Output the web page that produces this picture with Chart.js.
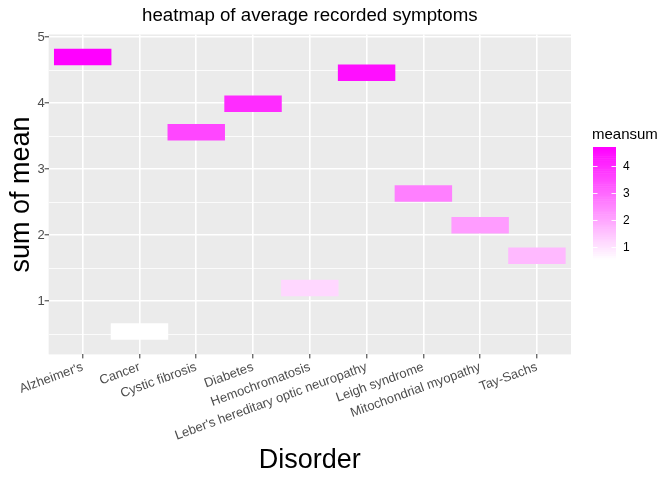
<!DOCTYPE html>
<html>
<head>
<meta charset="utf-8">
<script src="https://cdn.jsdelivr.net/npm/chart.js@4.4.1/dist/chart.umd.min.js"></script>
<style>
  html, body { margin: 0; padding: 0; background: #fff; }
  #wrap { width: 672px; height: 480px; }
</style>
</head>
<body>
<div id="wrap"><canvas id="chart" width="672" height="480"></canvas></div>
<script>
// data
const disorders = [
  "Alzheimer's", 'Cancer', 'Cystic fibrosis', 'Diabetes', 'Hemochromatosis',
  "Leber's hereditary optic neuropathy", 'Leigh syndrome', 'Mitochondrial myopathy', 'Tay-Sachs'
];
const meanSum = [4.70, 0.54, 3.56, 3.99, 1.20, 4.46, 2.63, 2.15, 1.69];
const yTicks = [1, 2, 3, 4, 5];
const legendTicks = [1, 2, 3, 4];

const TILE_HALF = 0.12;
const FONT = "'Liberation Sans', Arial, Helvetica, sans-serif";

// white -> magenta gradient over the data range
const vMin = Math.min(...meanSum);
const vMax = Math.max(...meanSum);
const fillFor = (v) => {
  const t = Math.max(0, Math.min(1, (v - vMin) / (vMax - vMin)));
  const g = Math.round(255 * (1 - t));
  return `rgb(255,${g},255)`;
};

// grey panel behind the plot
const panelBg = {
  id: 'panelBg',
  beforeDraw(chart) {
    const { ctx, chartArea: a } = chart;
    ctx.save();
    ctx.fillStyle = '#EBEBEB';
    ctx.fillRect(a.left, a.top, a.right - a.left, a.bottom - a.top);
    ctx.restore();
  }
};

// colour bar legend on the right
const colourBar = {
  id: 'colourBar',
  afterDraw(chart) {
    const { ctx } = chart;
    const x = 593, w = 23, top = 147, bottom = 259;
    const scaleY = (v) => bottom - (v - vMin) / (vMax - vMin) * (bottom - top);
    ctx.save();
    ctx.fillStyle = '#000';
    ctx.font = `15px ${FONT}`;
    ctx.textBaseline = 'alphabetic';
    ctx.textAlign = 'left';
    ctx.fillText('meansum', 592, 139);
    const steps = 60;
    for (let i = 0; i < steps; i++) {
      const v0 = vMin + (vMax - vMin) * i / steps;
      const v1 = vMin + (vMax - vMin) * (i + 1) / steps;
      ctx.fillStyle = fillFor((v0 + v1) / 2);
      const y1 = scaleY(v1), y0 = scaleY(v0);
      ctx.fillRect(x, y1, w, y0 - y1 + 0.5);
    }
    ctx.strokeStyle = 'rgba(255,255,255,0.9)';
    ctx.lineWidth = 1;
    ctx.font = `12px ${FONT}`;
    ctx.textBaseline = 'middle';
    ctx.fillStyle = '#000';
    legendTicks.forEach((t) => {
      const y = Math.round(scaleY(t)) + 0.5;
      ctx.beginPath();
      ctx.moveTo(x, y); ctx.lineTo(x + 4.5, y);
      ctx.moveTo(x + w - 4.5, y); ctx.lineTo(x + w, y);
      ctx.stroke();
      ctx.fillText(String(t), 623, y);
    });
    ctx.restore();
  }
};

new Chart(document.getElementById('chart'), {
  type: 'bar',
  data: {
    datasets: [{
      data: meanSum.map((v, i) => ({ x: i + 1, y: [v - TILE_HALF, v + TILE_HALF] })),
      backgroundColor: meanSum.map(fillFor),
      borderWidth: 0,
      barPercentage: 1,
      categoryPercentage: 1,
    }],
  },
  options: {
    responsive: false,
    animation: false,
    layout: { padding: { left: 0, right: 101, top: 0, bottom: 3 } },
    plugins: {
      legend: { display: false },
      tooltip: { enabled: false },
      title: {
        display: true,
        fullSize: false,
        text: 'heatmap of average recorded symptoms',
        color: '#000',
        font: { family: FONT, size: 18.7, weight: 'normal' },
        padding: { top: 5, bottom: 7 },
      },
    },
    scales: {
      x: {
        type: 'linear',
        min: 0.4,
        max: 9.6,
        offset: false,
        afterBuildTicks: (axis) => { axis.ticks = disorders.map((d, i) => ({ value: i + 1 })); },
        ticks: {
          autoSkip: false,
          maxRotation: 20,
          minRotation: 20,
          color: '#4D4D4D',
          font: { family: FONT, size: 13 },
          padding: 1,
          callback: (v) => disorders[v - 1],
        },
        grid: { offset: false, color: '#FFFFFF', lineWidth: 1.6, tickColor: '#333333', tickLength: 4, tickWidth: 1 },
        border: { display: false },
        title: {
          display: true,
          text: 'Disorder',
          color: '#000',
          font: { family: FONT, size: 27 },
          padding: { top: 0, bottom: 0 },
        },
      },
      y: {
        min: 0.195,
        max: 5.04,
        afterBuildTicks: (axis) => {
          const t = [];
          yTicks.forEach((v) => { t.push({ value: v - 0.5 }, { value: v }); });
          axis.ticks = t;
        },
        ticks: {
          color: '#4D4D4D',
          font: { family: FONT, size: 13 },
          padding: 0,
          callback: (v) => (yTicks.includes(v) ? String(v) : ''),
        },
        grid: {
          color: '#FFFFFF',
          lineWidth: (c) => (c.tick && yTicks.includes(c.tick.value) ? 1.6 : 0.8),
          tickColor: (c) => (c.tick && yTicks.includes(c.tick.value) ? '#333333' : 'rgba(0,0,0,0)'),
          tickLength: 4,
          tickWidth: 1,
        },
        border: { display: false },
        title: {
          display: true,
          text: 'sum of mean',
          color: '#000',
          font: { family: FONT, size: 27 },
          padding: { top: 5, bottom: 0 },
        },
      },
    },
  },
  plugins: [panelBg, colourBar],
});
</script>
</body>
</html>
